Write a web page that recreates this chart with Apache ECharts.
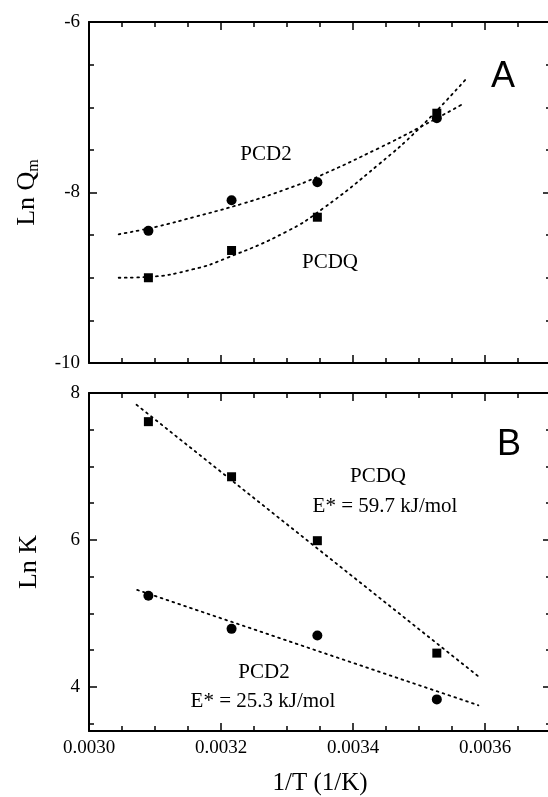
<!DOCTYPE html>
<html>
<head>
<meta charset="utf-8">
<script src="https://cdn.jsdelivr.net/npm/echarts@6/dist/echarts.min.js"></script>
<style>
  html, body { margin: 0; padding: 0; background: #fff; }
  #chart { width: 548px; height: 797px; }
</style>
</head>
<body>
<div id="chart"></div>
<script>
// 1/T của 4 nhiệt độ đo
const invT = [0.00309, 0.003216, 0.003346, 0.003527];

// Panel A: Ln Qm
const qmPCD2 = [-8.45, -8.09, -7.88, -7.13];
const qmPCDQ = [-9.00, -8.68, -8.29, -7.07];

// đường fit
const fitQmPCD2X = [0.003045, 0.003103, 0.003158, 0.003233, 0.003299, 0.003348, 0.003439, 0.0035, 0.003567];
const fitQmPCD2Y = [-8.49, -8.40, -8.29, -8.13, -7.96, -7.81, -7.48, -7.24, -6.96];
const fitQmPCDQX = [0.003045, 0.003089, 0.003158, 0.003208, 0.003299, 0.003354, 0.003439, 0.0035, 0.00357];
const fitQmPCDQY = [-9.00, -8.99, -8.90, -8.77, -8.46, -8.19, -7.67, -7.25, -6.68];

// Panel B: Ln K
const kPCDQ = [7.61, 6.86, 5.99, 4.46];
const kPCD2 = [5.24, 4.79, 4.70, 3.83];
const fitKPCDQX = [0.003072, 0.003589];
const fitKPCDQY = [7.84, 4.15];
const fitKPCD2X = [0.003073, 0.003590];
const fitKPCD2Y = [5.32, 3.75];

const serif = "'Liberation Serif', 'DejaVu Serif', serif";
const sans = "'Liberation Sans', Arial, sans-serif";

function pairs(xs, ys) {
    return xs.map((x, i) => [x, ys[i]]);
}

// trục x: một trục chính (nhãn) + một trục phụ (vạch nhỏ)
function xAxes(grid, pos, showLabel, name) {
    const base = {
        gridIndex: grid, type: 'value', position: pos,
        min: 0.0030, max: 0.0037,
        splitLine: { show: false }
    };
    return [
        Object.assign({}, base, {
            minInterval: 0.0002, maxInterval: 0.0002,
            axisLine: { show: true, lineStyle: { color: '#000', width: 2 } },
            axisTick: { show: true, inside: true, length: 8, lineStyle: { color: '#000', width: 1.5 } },
            axisLabel: {
                show: showLabel, margin: 8, color: '#000', fontFamily: serif, fontSize: 19,
                formatter: v => Math.abs(v / 0.0002 - Math.round(v / 0.0002)) < 1e-6 ? v.toFixed(4) : ''
            },
            name: name || '', nameLocation: 'middle', nameGap: 40,
            nameTextStyle: { color: '#000', fontFamily: serif, fontSize: 25 }
        }),
        Object.assign({}, base, {
            minInterval: 0.00005, maxInterval: 0.00005,
            axisLine: { show: false },
            axisTick: { show: true, inside: true, length: 5, lineStyle: { color: '#000', width: 1.5 } },
            axisLabel: { show: false }
        })
    ];
}

function yAxes(grid, pos, min, max, showLabel, name, nameStyle) {
    const base = {
        gridIndex: grid, type: 'value', position: pos,
        min: min, max: max,
        splitLine: { show: false }
    };
    return [
        Object.assign({}, base, {
            minInterval: 2, maxInterval: 2,
            axisLine: { show: true, lineStyle: { color: '#000', width: 2 } },
            axisTick: { show: true, inside: true, length: 8, lineStyle: { color: '#000', width: 1.5 } },
            axisLabel: {
                show: showLabel, margin: 9, color: '#000', fontFamily: serif, fontSize: 19,
                formatter: v => Math.abs(v / 2 - Math.round(v / 2)) < 1e-6 ? String(v) : ''
            },
            name: name || '', nameLocation: 'middle', nameGap: 47,
            nameTextStyle: nameStyle || {}
        }),
        Object.assign({}, base, {
            minInterval: 0.5, maxInterval: 0.5,
            axisLine: { show: false },
            axisTick: { show: true, inside: true, length: 5, lineStyle: { color: '#000', width: 1.5 } },
            axisLabel: { show: false }
        })
    ];
}

const xAxis = [].concat(
    xAxes(0, 'bottom', false),   // 0,1
    xAxes(0, 'top', false),      // 2,3
    xAxes(1, 'bottom', true, '1/T (1/K)'), // 4,5
    xAxes(1, 'top', false)       // 6,7
);

const yAxis = [].concat(
    yAxes(0, 'left', -10, -6, true, '{a|Ln Q}{b|m}', {
        color: '#000',
        rich: {
            a: { fontFamily: serif, fontSize: 26, color: '#000' },
            b: { fontFamily: serif, fontSize: 16, color: '#000', padding: [14, 0, 0, 0] }
        }
    }),                                   // 0,1
    yAxes(0, 'right', -10, -6, false),    // 2,3
    yAxes(1, 'left', 3.4, 8, true, 'Ln K', { color: '#000', fontFamily: serif, fontSize: 26 }), // 4,5
    yAxes(1, 'right', 3.4, 8, false)      // 6,7
);

const dotted = { color: '#000', width: 1.8, type: [1.8, 4.4], cap: 'round' };

function fitLine(xi, yi, data, smooth) {
    return {
        type: 'line', xAxisIndex: xi, yAxisIndex: yi, data: data,
        smooth: smooth, showSymbol: false, symbol: 'none',
        lineStyle: dotted, silent: true
    };
}
function marks(xi, yi, data, symbol, size) {
    return {
        type: 'scatter', xAxisIndex: xi, yAxisIndex: yi, data: data,
        symbol: symbol, symbolSize: size, itemStyle: { color: '#000', opacity: 1 }
    };
}

const chart = echarts.init(document.getElementById('chart'), null, { renderer: 'canvas' });
chart.setOption({
    animation: false,
    backgroundColor: '#fff',
    grid: [
        { left: 89, top: 22, width: 462, height: 341, outerBoundsMode: 'none' },
        { left: 89, top: 393, width: 462, height: 338, outerBoundsMode: 'none' }
    ],
    xAxis: xAxis,
    yAxis: yAxis,
    series: [
        fitLine(0, 0, pairs(fitQmPCD2X, fitQmPCD2Y), true),
        fitLine(0, 0, pairs(fitQmPCDQX, fitQmPCDQY), true),
        marks(0, 0, pairs(invT, qmPCD2), 'circle', 10),
        marks(0, 0, pairs(invT, qmPCDQ), 'rect', 9),
        fitLine(4, 4, pairs(fitKPCDQX, fitKPCDQY), false),
        fitLine(4, 4, pairs(fitKPCD2X, fitKPCD2Y), false),
        marks(4, 4, pairs(invT, kPCDQ), 'rect', 9),
        marks(4, 4, pairs(invT, kPCD2), 'circle', 10)
    ],
    graphic: [
        { type: 'text', x: 266, y: 154, style: { text: 'PCD2', font: '21px ' + serif, fill: '#000', align: 'center', verticalAlign: 'middle' } },
        { type: 'text', x: 330, y: 262, style: { text: 'PCDQ', font: '21px ' + serif, fill: '#000', align: 'center', verticalAlign: 'middle' } },
        { type: 'text', x: 503, y: 77, style: { text: 'A', font: '36px ' + sans, fill: '#000', align: 'center', verticalAlign: 'middle' } },
        { type: 'text', x: 509, y: 445, style: { text: 'B', font: '36px ' + sans, fill: '#000', align: 'center', verticalAlign: 'middle' } },
        { type: 'text', x: 378, y: 476, style: { text: 'PCDQ', font: '21px ' + serif, fill: '#000', align: 'center', verticalAlign: 'middle' } },
        { type: 'text', x: 385, y: 506, style: { text: 'E* = 59.7 kJ/mol', font: '21px ' + serif, fill: '#000', align: 'center', verticalAlign: 'middle' } },
        { type: 'text', x: 264, y: 672, style: { text: 'PCD2', font: '21px ' + serif, fill: '#000', align: 'center', verticalAlign: 'middle' } },
        { type: 'text', x: 263, y: 701, style: { text: 'E* = 25.3 kJ/mol', font: '21px ' + serif, fill: '#000', align: 'center', verticalAlign: 'middle' } }
    ]
});
</script>
</body>
</html>
